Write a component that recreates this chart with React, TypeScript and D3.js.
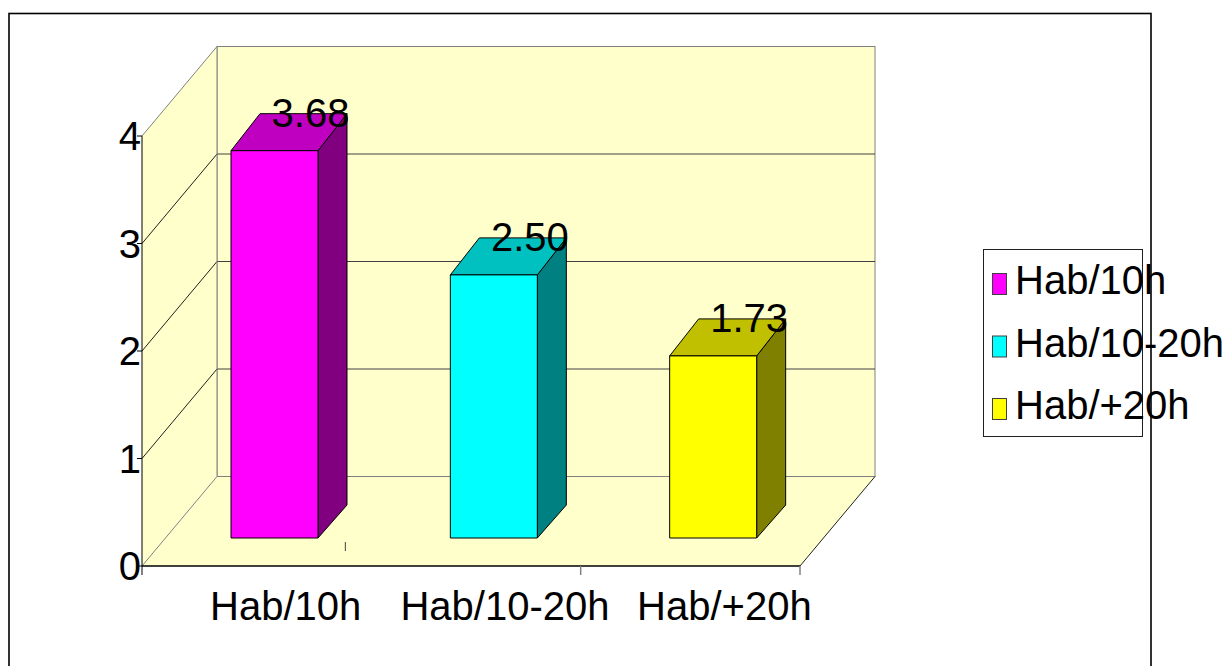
import React from "react";
import * as d3 from "d3";

const categories = ["Hab/10h", "Hab/10-20h", "Hab/+20h"];
const values = [3.68, 2.5, 1.73];
const valueLabels = ["3.68", "2.50", "1.73"];
const yTicks = [0, 1, 2, 3, 4];
const frontColors = ["#FF00FF", "#00FFFF", "#FFFF00"];
const topColors = ["#C000C0", "#00C0C0", "#C0C000"];
const sideColors = ["#800080", "#008080", "#808000"];

const W = 1230;
const H = 666;
const FONT = "Liberation Sans, Arial, sans-serif";

export default function App() {
  const x = d3.scaleBand<string>().domain(categories).range([142, 800]);
  const y = d3.scaleLinear().domain([0, 4]).range([566, 136]);
  const DX = 75;
  const DY = -89.5;
  const yBar = d3.scaleLinear().domain([0, 4]).range([538, 117]);
  const barOffset = 89;
  const barW = 87;
  const bdx = 29;
  const bdy = -37;

  const bg = "#FFFFCC";
  const wallEdge = "#808080";

  const x0 = x.range()[0];
  const x1 = x.range()[1];

  const pts = (arr: [number, number][]) => arr.map((p) => p.join(",")).join(" ");

  return (
    <svg
      width={W}
      height={H}
      style={{ position: "absolute", left: 0, top: 0, background: "#fff" }}
      fontFamily={FONT}
    >
      <rect
        x={x0 + DX}
        y={y(4) + DY}
        width={x1 - x0}
        height={y(0) - y(4)}
        fill={bg}
        stroke={wallEdge}
        strokeWidth={1}
      />
      <polygon
        points={pts([
          [x0, y(4)],
          [x0 + DX, y(4) + DY],
          [x0 + DX, y(0) + DY],
          [x0, y(0)],
        ])}
        fill={bg}
        stroke="none"
      />
      <polygon
        points={pts([
          [x0, y(0)],
          [x1, y(0)],
          [x1 + DX, y(0) + DY],
          [x0 + DX, y(0) + DY],
        ])}
        fill={bg}
        stroke="none"
      />
      {yTicks.map((t) => (
        <line
          key={"bg" + t}
          x1={x0 + DX}
          x2={x1 + DX}
          y1={y(t) + DY}
          y2={y(t) + DY}
          stroke={t === 0 || t === 4 ? wallEdge : "#404040"}
          strokeWidth={1}
        />
      ))}
      {yTicks.map((t) => (
        <line
          key={"lg" + t}
          x1={x0}
          y1={y(t)}
          x2={x0 + DX}
          y2={y(t) + DY}
          stroke={t === 0 || t === 4 ? wallEdge : "#202020"}
          strokeWidth={1}
        />
      ))}
      <line x1={x1} y1={y(0)} x2={x1 + DX} y2={y(0) + DY} stroke="#202020" strokeWidth={1} />
      <line x1={x0 + DX} y1={y(4) + DY} x2={x0 + DX} y2={y(0) + DY} stroke={wallEdge} strokeWidth={1} />

      <line x1={x0} y1={y(4)} x2={x0} y2={y(0) + 9} stroke="#000" strokeWidth={1} />
      <line x1={x0} y1={y(0)} x2={x1} y2={y(0)} stroke="#000" strokeWidth={1.5} />
      {yTicks.map((t) => (
        <line key={"yt" + t} x1={x0 - 5} x2={x0} y1={y(t)} y2={y(t)} stroke="#000" strokeWidth={1} />
      ))}
      <line
        x1={x(categories[2]) as number}
        x2={x(categories[2]) as number}
        y1={y(0)}
        y2={y(0) + 9}
        stroke={wallEdge}
        strokeWidth={1.5}
      />
      <line x1={x1} x2={x1} y1={y(0)} y2={y(0) + 9} stroke={wallEdge} strokeWidth={1.5} />
      {/* small stray tick on the floor near the first category boundary */}
      <line
        x1={(x(categories[1]) as number) - 16}
        x2={(x(categories[1]) as number) - 16}
        y1={y(0) - 24}
        y2={y(0) - 15}
        stroke="#404040"
        strokeWidth={1}
      />
      {yTicks.map((t) => (
        <text
          key={"yl" + t}
          x={x0 - 1}
          y={y(t)}
          dy="0.36em"
          textAnchor="end"
          fontSize={40}
          fill="#000"
        >
          {t}
        </text>
      ))}

      {categories.map((c, i) => {
        const bx = (x(c) as number) + barOffset;
        const yt = yBar(values[i]);
        const yb = yBar(0);
        return (
          <g key={"bar" + i} stroke="#000" strokeWidth={1} strokeLinejoin="round">
            <polygon
              points={pts([
                [bx + barW, yt],
                [bx + barW + bdx, yt + bdy],
                [bx + barW + bdx, yb + bdy + 4],
                [bx + barW, yb],
              ])}
              fill={sideColors[i]}
            />
            <polygon
              points={pts([
                [bx, yt],
                [bx + bdx, yt + bdy],
                [bx + barW + bdx, yt + bdy],
                [bx + barW, yt],
              ])}
              fill={topColors[i]}
            />
            <rect x={bx} y={yt} width={barW} height={yb - yt} fill={frontColors[i]} />
          </g>
        );
      })}
      {categories.map((c, i) => {
        const bx = (x(c) as number) + barOffset;
        const yt = yBar(values[i]);
        return (
          <text
            key={"vl" + i}
            x={bx + bdx + barW / 2 + 7}
            y={yt + bdy + 13}
            textAnchor="middle"
            fontSize={40}
            fill="#000"
          >
            {valueLabels[i]}
          </text>
        );
      })}

      {categories.map((c, i) => (
        <text
          key={"cl" + i}
          x={(x(c) as number) + x.bandwidth() / 2 + 34}
          y={620}
          textAnchor="middle"
          fontSize={40}
          fill="#000"
        >
          {c}
        </text>
      ))}

      <rect x={983.5} y={249.5} width={159} height={187} fill="#fff" stroke="#202020" strokeWidth={1} />
      {categories.map((c, i) => (
        <g key={"lg" + i}>
          <rect
            x={992.5}
            y={273.5 + i * 62.5}
            width={14}
            height={21}
            fill={frontColors[i]}
            stroke="#404040"
            strokeWidth={1}
          />
          <text x={1015} y={294 + i * 62.5} fontSize={40} fill="#000">
            {c}
          </text>
        </g>
      ))}

      <rect x={9} y={13.5} width={1142} height={720} fill="none" stroke="#000" strokeWidth={1.6} />
    </svg>
  );
}
